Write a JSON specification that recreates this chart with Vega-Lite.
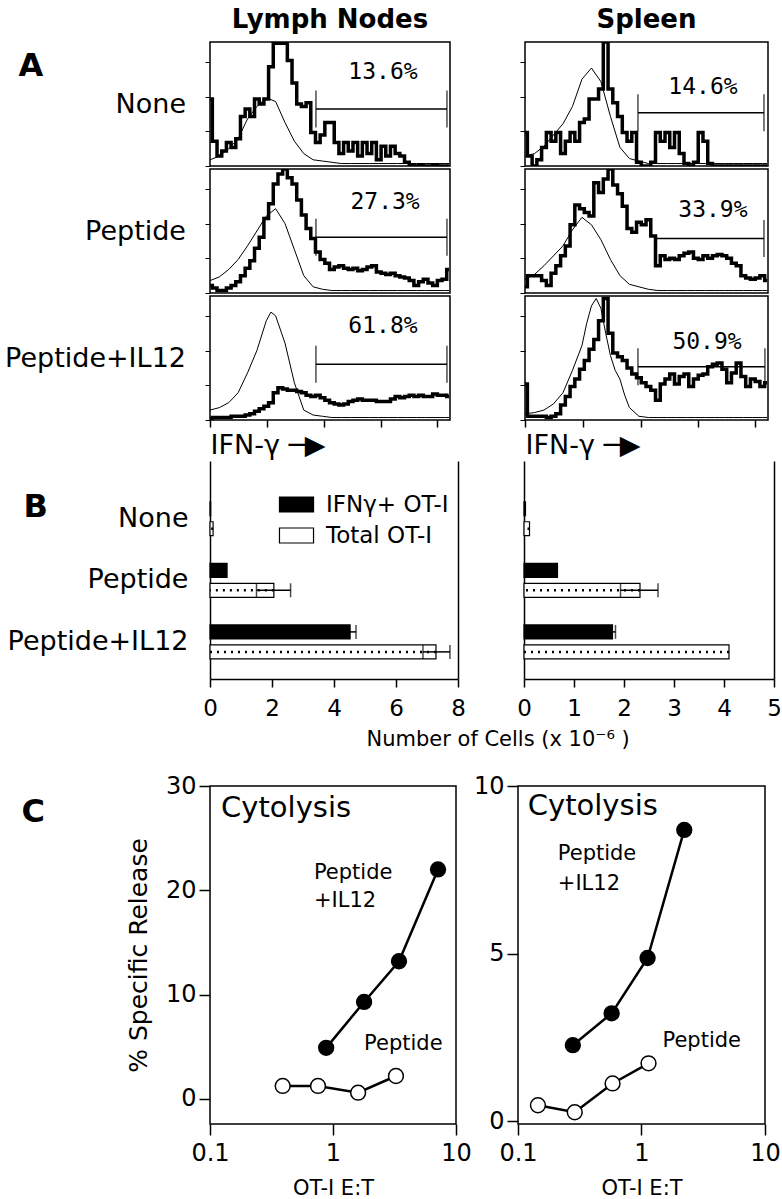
{
"$schema": "https://vega.github.io/schema/vega-lite/v6.json",
"background": "white",
"padding": {"left": 3, "top": 6, "right": 0, "bottom": 0},
"config": {
  "font": "DejaVu Sans",
  "view": {"stroke": "black", "strokeWidth": 1.5},
  "axis": {"labelFont": "DejaVu Sans", "titleFont": "DejaVu Sans", "labelColor": "black", "titleColor": "black", "tickColor": "black", "domainColor": "black", "titleFontWeight": "normal", "labelLimit": 400, "titleLimit": 400, "labelFlush": false, "grid": false},
  "title": {"font": "DejaVu Sans", "color": "black"},
  "text": {"font": "DejaVu Sans", "color": "black"},
  "legend": {"labelFont": "DejaVu Sans", "labelColor": "black"}
},
"datasets": {
"hist": [
{"organ":"LN","cond":"None","trace":"thick","ch":0,"count":54},{"organ":"LN","cond":"None","trace":"thick","ch":20,"count":20},{"organ":"LN","cond":"None","trace":"thick","ch":40,"count":8},{"organ":"LN","cond":"None","trace":"thick","ch":60,"count":12},{"organ":"LN","cond":"None","trace":"thick","ch":80,"count":19},{"organ":"LN","cond":"None","trace":"thick","ch":100,"count":15},{"organ":"LN","cond":"None","trace":"thick","ch":120,"count":22},{"organ":"LN","cond":"None","trace":"thick","ch":140,"count":40},{"organ":"LN","cond":"None","trace":"thick","ch":160,"count":46},{"organ":"LN","cond":"None","trace":"thick","ch":180,"count":40},{"organ":"LN","cond":"None","trace":"thick","ch":200,"count":54},{"organ":"LN","cond":"None","trace":"thick","ch":220,"count":50},{"organ":"LN","cond":"None","trace":"thick","ch":240,"count":54},{"organ":"LN","cond":"None","trace":"thick","ch":260,"count":80},{"organ":"LN","cond":"None","trace":"thick","ch":280,"count":99},{"organ":"LN","cond":"None","trace":"thick","ch":300,"count":99},{"organ":"LN","cond":"None","trace":"thick","ch":320,"count":99},{"organ":"LN","cond":"None","trace":"thick","ch":340,"count":85},{"organ":"LN","cond":"None","trace":"thick","ch":360,"count":67},{"organ":"LN","cond":"None","trace":"thick","ch":380,"count":50},{"organ":"LN","cond":"None","trace":"thick","ch":400,"count":48},{"organ":"LN","cond":"None","trace":"thick","ch":420,"count":51},{"organ":"LN","cond":"None","trace":"thick","ch":440,"count":27},{"organ":"LN","cond":"None","trace":"thick","ch":460,"count":19},{"organ":"LN","cond":"None","trace":"thick","ch":480,"count":25},{"organ":"LN","cond":"None","trace":"thick","ch":500,"count":35},{"organ":"LN","cond":"None","trace":"thick","ch":520,"count":35},{"organ":"LN","cond":"None","trace":"thick","ch":540,"count":19},{"organ":"LN","cond":"None","trace":"thick","ch":560,"count":10},{"organ":"LN","cond":"None","trace":"thick","ch":580,"count":19},{"organ":"LN","cond":"None","trace":"thick","ch":600,"count":12},{"organ":"LN","cond":"None","trace":"thick","ch":620,"count":19},{"organ":"LN","cond":"None","trace":"thick","ch":640,"count":8},{"organ":"LN","cond":"None","trace":"thick","ch":660,"count":19},{"organ":"LN","cond":"None","trace":"thick","ch":680,"count":10},{"organ":"LN","cond":"None","trace":"thick","ch":700,"count":19},{"organ":"LN","cond":"None","trace":"thick","ch":720,"count":5},{"organ":"LN","cond":"None","trace":"thick","ch":740,"count":16},{"organ":"LN","cond":"None","trace":"thick","ch":760,"count":8},{"organ":"LN","cond":"None","trace":"thick","ch":780,"count":16},{"organ":"LN","cond":"None","trace":"thick","ch":800,"count":10},{"organ":"LN","cond":"None","trace":"thick","ch":820,"count":8},{"organ":"LN","cond":"None","trace":"thick","ch":840,"count":3},{"organ":"LN","cond":"None","trace":"thick","ch":860,"count":1},{"organ":"LN","cond":"None","trace":"thick","ch":880,"count":0},{"organ":"LN","cond":"None","trace":"thick","ch":900,"count":1},{"organ":"LN","cond":"None","trace":"thick","ch":920,"count":0},{"organ":"LN","cond":"None","trace":"thick","ch":940,"count":0},{"organ":"LN","cond":"None","trace":"thick","ch":960,"count":1},{"organ":"LN","cond":"None","trace":"thick","ch":980,"count":0},{"organ":"LN","cond":"None","trace":"thick","ch":1000,"count":0},{"organ":"LN","cond":"None","trace":"thick","ch":1020,"count":0},
{"organ":"LN","cond":"None","trace":"thin","ch":0,"count":5},{"organ":"LN","cond":"None","trace":"thin","ch":40,"count":8},{"organ":"LN","cond":"None","trace":"thin","ch":80,"count":14},{"organ":"LN","cond":"None","trace":"thin","ch":120,"count":22},{"organ":"LN","cond":"None","trace":"thin","ch":160,"count":38},{"organ":"LN","cond":"None","trace":"thin","ch":200,"count":48},{"organ":"LN","cond":"None","trace":"thin","ch":240,"count":55},{"organ":"LN","cond":"None","trace":"thin","ch":280,"count":52},{"organ":"LN","cond":"None","trace":"thin","ch":320,"count":35},{"organ":"LN","cond":"None","trace":"thin","ch":360,"count":20},{"organ":"LN","cond":"None","trace":"thin","ch":400,"count":10},{"organ":"LN","cond":"None","trace":"thin","ch":440,"count":5},{"organ":"LN","cond":"None","trace":"thin","ch":480,"count":4},{"organ":"LN","cond":"None","trace":"thin","ch":520,"count":3},{"organ":"LN","cond":"None","trace":"thin","ch":560,"count":2},{"organ":"LN","cond":"None","trace":"thin","ch":600,"count":2},{"organ":"LN","cond":"None","trace":"thin","ch":640,"count":2},{"organ":"LN","cond":"None","trace":"thin","ch":680,"count":2},{"organ":"LN","cond":"None","trace":"thin","ch":720,"count":2},{"organ":"LN","cond":"None","trace":"thin","ch":760,"count":2},{"organ":"LN","cond":"None","trace":"thin","ch":800,"count":2},{"organ":"LN","cond":"None","trace":"thin","ch":840,"count":2},{"organ":"LN","cond":"None","trace":"thin","ch":880,"count":2},{"organ":"LN","cond":"None","trace":"thin","ch":920,"count":2},{"organ":"LN","cond":"None","trace":"thin","ch":960,"count":2},{"organ":"LN","cond":"None","trace":"thin","ch":1000,"count":2},{"organ":"LN","cond":"None","trace":"thin","ch":1020,"count":2},
{"organ":"LN","cond":"Peptide","trace":"thick","ch":0,"count":6},{"organ":"LN","cond":"Peptide","trace":"thick","ch":20,"count":4},{"organ":"LN","cond":"Peptide","trace":"thick","ch":40,"count":2},{"organ":"LN","cond":"Peptide","trace":"thick","ch":60,"count":2},{"organ":"LN","cond":"Peptide","trace":"thick","ch":80,"count":4},{"organ":"LN","cond":"Peptide","trace":"thick","ch":100,"count":6},{"organ":"LN","cond":"Peptide","trace":"thick","ch":120,"count":9},{"organ":"LN","cond":"Peptide","trace":"thick","ch":140,"count":14},{"organ":"LN","cond":"Peptide","trace":"thick","ch":160,"count":20},{"organ":"LN","cond":"Peptide","trace":"thick","ch":180,"count":26},{"organ":"LN","cond":"Peptide","trace":"thick","ch":200,"count":36},{"organ":"LN","cond":"Peptide","trace":"thick","ch":220,"count":45},{"organ":"LN","cond":"Peptide","trace":"thick","ch":240,"count":60},{"organ":"LN","cond":"Peptide","trace":"thick","ch":260,"count":72},{"organ":"LN","cond":"Peptide","trace":"thick","ch":280,"count":88},{"organ":"LN","cond":"Peptide","trace":"thick","ch":300,"count":96},{"organ":"LN","cond":"Peptide","trace":"thick","ch":320,"count":100},{"organ":"LN","cond":"Peptide","trace":"thick","ch":340,"count":93},{"organ":"LN","cond":"Peptide","trace":"thick","ch":360,"count":88},{"organ":"LN","cond":"Peptide","trace":"thick","ch":380,"count":75},{"organ":"LN","cond":"Peptide","trace":"thick","ch":400,"count":63},{"organ":"LN","cond":"Peptide","trace":"thick","ch":420,"count":52},{"organ":"LN","cond":"Peptide","trace":"thick","ch":440,"count":44},{"organ":"LN","cond":"Peptide","trace":"thick","ch":460,"count":33},{"organ":"LN","cond":"Peptide","trace":"thick","ch":480,"count":27},{"organ":"LN","cond":"Peptide","trace":"thick","ch":500,"count":24},{"organ":"LN","cond":"Peptide","trace":"thick","ch":520,"count":19},{"organ":"LN","cond":"Peptide","trace":"thick","ch":540,"count":21},{"organ":"LN","cond":"Peptide","trace":"thick","ch":560,"count":22},{"organ":"LN","cond":"Peptide","trace":"thick","ch":580,"count":20},{"organ":"LN","cond":"Peptide","trace":"thick","ch":600,"count":19},{"organ":"LN","cond":"Peptide","trace":"thick","ch":620,"count":20},{"organ":"LN","cond":"Peptide","trace":"thick","ch":640,"count":18},{"organ":"LN","cond":"Peptide","trace":"thick","ch":660,"count":19},{"organ":"LN","cond":"Peptide","trace":"thick","ch":680,"count":21},{"organ":"LN","cond":"Peptide","trace":"thick","ch":700,"count":22},{"organ":"LN","cond":"Peptide","trace":"thick","ch":720,"count":17},{"organ":"LN","cond":"Peptide","trace":"thick","ch":740,"count":16},{"organ":"LN","cond":"Peptide","trace":"thick","ch":760,"count":15},{"organ":"LN","cond":"Peptide","trace":"thick","ch":780,"count":16},{"organ":"LN","cond":"Peptide","trace":"thick","ch":800,"count":14},{"organ":"LN","cond":"Peptide","trace":"thick","ch":820,"count":13},{"organ":"LN","cond":"Peptide","trace":"thick","ch":840,"count":12},{"organ":"LN","cond":"Peptide","trace":"thick","ch":860,"count":10},{"organ":"LN","cond":"Peptide","trace":"thick","ch":880,"count":6},{"organ":"LN","cond":"Peptide","trace":"thick","ch":900,"count":9},{"organ":"LN","cond":"Peptide","trace":"thick","ch":920,"count":11},{"organ":"LN","cond":"Peptide","trace":"thick","ch":940,"count":8},{"organ":"LN","cond":"Peptide","trace":"thick","ch":960,"count":6},{"organ":"LN","cond":"Peptide","trace":"thick","ch":980,"count":10},{"organ":"LN","cond":"Peptide","trace":"thick","ch":1000,"count":11},{"organ":"LN","cond":"Peptide","trace":"thick","ch":1020,"count":19},
{"organ":"LN","cond":"Peptide","trace":"thin","ch":0,"count":10},{"organ":"LN","cond":"Peptide","trace":"thin","ch":40,"count":13},{"organ":"LN","cond":"Peptide","trace":"thin","ch":80,"count":19},{"organ":"LN","cond":"Peptide","trace":"thin","ch":120,"count":27},{"organ":"LN","cond":"Peptide","trace":"thin","ch":160,"count":38},{"organ":"LN","cond":"Peptide","trace":"thin","ch":200,"count":50},{"organ":"LN","cond":"Peptide","trace":"thin","ch":240,"count":62},{"organ":"LN","cond":"Peptide","trace":"thin","ch":280,"count":68},{"organ":"LN","cond":"Peptide","trace":"thin","ch":320,"count":56},{"organ":"LN","cond":"Peptide","trace":"thin","ch":360,"count":35},{"organ":"LN","cond":"Peptide","trace":"thin","ch":400,"count":14},{"organ":"LN","cond":"Peptide","trace":"thin","ch":440,"count":5},{"organ":"LN","cond":"Peptide","trace":"thin","ch":480,"count":3},{"organ":"LN","cond":"Peptide","trace":"thin","ch":520,"count":2},{"organ":"LN","cond":"Peptide","trace":"thin","ch":560,"count":2},{"organ":"LN","cond":"Peptide","trace":"thin","ch":600,"count":2},{"organ":"LN","cond":"Peptide","trace":"thin","ch":640,"count":2},{"organ":"LN","cond":"Peptide","trace":"thin","ch":680,"count":2},{"organ":"LN","cond":"Peptide","trace":"thin","ch":720,"count":2},{"organ":"LN","cond":"Peptide","trace":"thin","ch":760,"count":2},{"organ":"LN","cond":"Peptide","trace":"thin","ch":800,"count":2},{"organ":"LN","cond":"Peptide","trace":"thin","ch":840,"count":2},{"organ":"LN","cond":"Peptide","trace":"thin","ch":880,"count":2},{"organ":"LN","cond":"Peptide","trace":"thin","ch":920,"count":2},{"organ":"LN","cond":"Peptide","trace":"thin","ch":960,"count":2},{"organ":"LN","cond":"Peptide","trace":"thin","ch":1000,"count":2},{"organ":"LN","cond":"Peptide","trace":"thin","ch":1020,"count":2},
{"organ":"LN","cond":"Peptide+IL12","trace":"thick","ch":0,"count":1},{"organ":"LN","cond":"Peptide+IL12","trace":"thick","ch":20,"count":2},{"organ":"LN","cond":"Peptide+IL12","trace":"thick","ch":40,"count":2},{"organ":"LN","cond":"Peptide+IL12","trace":"thick","ch":60,"count":2},{"organ":"LN","cond":"Peptide+IL12","trace":"thick","ch":80,"count":2},{"organ":"LN","cond":"Peptide+IL12","trace":"thick","ch":100,"count":3},{"organ":"LN","cond":"Peptide+IL12","trace":"thick","ch":120,"count":3},{"organ":"LN","cond":"Peptide+IL12","trace":"thick","ch":140,"count":3},{"organ":"LN","cond":"Peptide+IL12","trace":"thick","ch":160,"count":4},{"organ":"LN","cond":"Peptide+IL12","trace":"thick","ch":180,"count":5},{"organ":"LN","cond":"Peptide+IL12","trace":"thick","ch":200,"count":7},{"organ":"LN","cond":"Peptide+IL12","trace":"thick","ch":220,"count":9},{"organ":"LN","cond":"Peptide+IL12","trace":"thick","ch":240,"count":11},{"organ":"LN","cond":"Peptide+IL12","trace":"thick","ch":260,"count":14},{"organ":"LN","cond":"Peptide+IL12","trace":"thick","ch":280,"count":22},{"organ":"LN","cond":"Peptide+IL12","trace":"thick","ch":300,"count":26},{"organ":"LN","cond":"Peptide+IL12","trace":"thick","ch":320,"count":25},{"organ":"LN","cond":"Peptide+IL12","trace":"thick","ch":340,"count":24},{"organ":"LN","cond":"Peptide+IL12","trace":"thick","ch":360,"count":24},{"organ":"LN","cond":"Peptide+IL12","trace":"thick","ch":380,"count":23},{"organ":"LN","cond":"Peptide+IL12","trace":"thick","ch":400,"count":22},{"organ":"LN","cond":"Peptide+IL12","trace":"thick","ch":420,"count":20},{"organ":"LN","cond":"Peptide+IL12","trace":"thick","ch":440,"count":19},{"organ":"LN","cond":"Peptide+IL12","trace":"thick","ch":460,"count":20},{"organ":"LN","cond":"Peptide+IL12","trace":"thick","ch":480,"count":18},{"organ":"LN","cond":"Peptide+IL12","trace":"thick","ch":500,"count":16},{"organ":"LN","cond":"Peptide+IL12","trace":"thick","ch":520,"count":14},{"organ":"LN","cond":"Peptide+IL12","trace":"thick","ch":540,"count":13},{"organ":"LN","cond":"Peptide+IL12","trace":"thick","ch":560,"count":12},{"organ":"LN","cond":"Peptide+IL12","trace":"thick","ch":580,"count":13},{"organ":"LN","cond":"Peptide+IL12","trace":"thick","ch":600,"count":15},{"organ":"LN","cond":"Peptide+IL12","trace":"thick","ch":620,"count":16},{"organ":"LN","cond":"Peptide+IL12","trace":"thick","ch":640,"count":17},{"organ":"LN","cond":"Peptide+IL12","trace":"thick","ch":660,"count":16},{"organ":"LN","cond":"Peptide+IL12","trace":"thick","ch":680,"count":16},{"organ":"LN","cond":"Peptide+IL12","trace":"thick","ch":700,"count":16},{"organ":"LN","cond":"Peptide+IL12","trace":"thick","ch":720,"count":15},{"organ":"LN","cond":"Peptide+IL12","trace":"thick","ch":740,"count":15},{"organ":"LN","cond":"Peptide+IL12","trace":"thick","ch":760,"count":15},{"organ":"LN","cond":"Peptide+IL12","trace":"thick","ch":780,"count":17},{"organ":"LN","cond":"Peptide+IL12","trace":"thick","ch":800,"count":19},{"organ":"LN","cond":"Peptide+IL12","trace":"thick","ch":820,"count":18},{"organ":"LN","cond":"Peptide+IL12","trace":"thick","ch":840,"count":19},{"organ":"LN","cond":"Peptide+IL12","trace":"thick","ch":860,"count":20},{"organ":"LN","cond":"Peptide+IL12","trace":"thick","ch":880,"count":19},{"organ":"LN","cond":"Peptide+IL12","trace":"thick","ch":900,"count":20},{"organ":"LN","cond":"Peptide+IL12","trace":"thick","ch":920,"count":19},{"organ":"LN","cond":"Peptide+IL12","trace":"thick","ch":940,"count":19},{"organ":"LN","cond":"Peptide+IL12","trace":"thick","ch":960,"count":21},{"organ":"LN","cond":"Peptide+IL12","trace":"thick","ch":980,"count":20},{"organ":"LN","cond":"Peptide+IL12","trace":"thick","ch":1000,"count":20},{"organ":"LN","cond":"Peptide+IL12","trace":"thick","ch":1020,"count":19},
{"organ":"LN","cond":"Peptide+IL12","trace":"thin","ch":0,"count":8},{"organ":"LN","cond":"Peptide+IL12","trace":"thin","ch":40,"count":10},{"organ":"LN","cond":"Peptide+IL12","trace":"thin","ch":80,"count":14},{"organ":"LN","cond":"Peptide+IL12","trace":"thin","ch":120,"count":22},{"organ":"LN","cond":"Peptide+IL12","trace":"thin","ch":160,"count":38},{"organ":"LN","cond":"Peptide+IL12","trace":"thin","ch":200,"count":56},{"organ":"LN","cond":"Peptide+IL12","trace":"thin","ch":240,"count":80},{"organ":"LN","cond":"Peptide+IL12","trace":"thin","ch":260,"count":87},{"organ":"LN","cond":"Peptide+IL12","trace":"thin","ch":280,"count":84},{"organ":"LN","cond":"Peptide+IL12","trace":"thin","ch":320,"count":62},{"organ":"LN","cond":"Peptide+IL12","trace":"thin","ch":360,"count":30},{"organ":"LN","cond":"Peptide+IL12","trace":"thin","ch":400,"count":8},{"organ":"LN","cond":"Peptide+IL12","trace":"thin","ch":440,"count":4},{"organ":"LN","cond":"Peptide+IL12","trace":"thin","ch":480,"count":3},{"organ":"LN","cond":"Peptide+IL12","trace":"thin","ch":520,"count":2},{"organ":"LN","cond":"Peptide+IL12","trace":"thin","ch":560,"count":2},{"organ":"LN","cond":"Peptide+IL12","trace":"thin","ch":600,"count":2},{"organ":"LN","cond":"Peptide+IL12","trace":"thin","ch":640,"count":2},{"organ":"LN","cond":"Peptide+IL12","trace":"thin","ch":680,"count":2},{"organ":"LN","cond":"Peptide+IL12","trace":"thin","ch":720,"count":2},{"organ":"LN","cond":"Peptide+IL12","trace":"thin","ch":760,"count":2},{"organ":"LN","cond":"Peptide+IL12","trace":"thin","ch":800,"count":2},{"organ":"LN","cond":"Peptide+IL12","trace":"thin","ch":840,"count":2},{"organ":"LN","cond":"Peptide+IL12","trace":"thin","ch":880,"count":2},{"organ":"LN","cond":"Peptide+IL12","trace":"thin","ch":920,"count":2},{"organ":"LN","cond":"Peptide+IL12","trace":"thin","ch":960,"count":2},{"organ":"LN","cond":"Peptide+IL12","trace":"thin","ch":1000,"count":2},{"organ":"LN","cond":"Peptide+IL12","trace":"thin","ch":1020,"count":2},
{"organ":"Spleen","cond":"None","trace":"thick","ch":0,"count":27},{"organ":"Spleen","cond":"None","trace":"thick","ch":20,"count":8},{"organ":"Spleen","cond":"None","trace":"thick","ch":40,"count":0},{"organ":"Spleen","cond":"None","trace":"thick","ch":60,"count":5},{"organ":"Spleen","cond":"None","trace":"thick","ch":80,"count":15},{"organ":"Spleen","cond":"None","trace":"thick","ch":100,"count":27},{"organ":"Spleen","cond":"None","trace":"thick","ch":120,"count":20},{"organ":"Spleen","cond":"None","trace":"thick","ch":140,"count":27},{"organ":"Spleen","cond":"None","trace":"thick","ch":160,"count":10},{"organ":"Spleen","cond":"None","trace":"thick","ch":180,"count":20},{"organ":"Spleen","cond":"None","trace":"thick","ch":200,"count":27},{"organ":"Spleen","cond":"None","trace":"thick","ch":220,"count":20},{"organ":"Spleen","cond":"None","trace":"thick","ch":240,"count":35},{"organ":"Spleen","cond":"None","trace":"thick","ch":260,"count":38},{"organ":"Spleen","cond":"None","trace":"thick","ch":280,"count":54},{"organ":"Spleen","cond":"None","trace":"thick","ch":300,"count":54},{"organ":"Spleen","cond":"None","trace":"thick","ch":320,"count":62},{"organ":"Spleen","cond":"None","trace":"thick","ch":340,"count":100},{"organ":"Spleen","cond":"None","trace":"thick","ch":360,"count":62},{"organ":"Spleen","cond":"None","trace":"thick","ch":380,"count":51},{"organ":"Spleen","cond":"None","trace":"thick","ch":400,"count":40},{"organ":"Spleen","cond":"None","trace":"thick","ch":420,"count":27},{"organ":"Spleen","cond":"None","trace":"thick","ch":440,"count":20},{"organ":"Spleen","cond":"None","trace":"thick","ch":460,"count":27},{"organ":"Spleen","cond":"None","trace":"thick","ch":480,"count":3},{"organ":"Spleen","cond":"None","trace":"thick","ch":500,"count":0},{"organ":"Spleen","cond":"None","trace":"thick","ch":520,"count":0},{"organ":"Spleen","cond":"None","trace":"thick","ch":540,"count":3},{"organ":"Spleen","cond":"None","trace":"thick","ch":560,"count":27},{"organ":"Spleen","cond":"None","trace":"thick","ch":580,"count":20},{"organ":"Spleen","cond":"None","trace":"thick","ch":600,"count":27},{"organ":"Spleen","cond":"None","trace":"thick","ch":620,"count":15},{"organ":"Spleen","cond":"None","trace":"thick","ch":640,"count":27},{"organ":"Spleen","cond":"None","trace":"thick","ch":660,"count":10},{"organ":"Spleen","cond":"None","trace":"thick","ch":680,"count":2},{"organ":"Spleen","cond":"None","trace":"thick","ch":700,"count":0},{"organ":"Spleen","cond":"None","trace":"thick","ch":720,"count":3},{"organ":"Spleen","cond":"None","trace":"thick","ch":740,"count":27},{"organ":"Spleen","cond":"None","trace":"thick","ch":760,"count":20},{"organ":"Spleen","cond":"None","trace":"thick","ch":780,"count":2},{"organ":"Spleen","cond":"None","trace":"thick","ch":800,"count":0},{"organ":"Spleen","cond":"None","trace":"thick","ch":820,"count":0},{"organ":"Spleen","cond":"None","trace":"thick","ch":840,"count":0},{"organ":"Spleen","cond":"None","trace":"thick","ch":860,"count":0},{"organ":"Spleen","cond":"None","trace":"thick","ch":880,"count":0},{"organ":"Spleen","cond":"None","trace":"thick","ch":900,"count":0},{"organ":"Spleen","cond":"None","trace":"thick","ch":920,"count":0},{"organ":"Spleen","cond":"None","trace":"thick","ch":940,"count":0},{"organ":"Spleen","cond":"None","trace":"thick","ch":960,"count":0},{"organ":"Spleen","cond":"None","trace":"thick","ch":980,"count":0},{"organ":"Spleen","cond":"None","trace":"thick","ch":1000,"count":0},{"organ":"Spleen","cond":"None","trace":"thick","ch":1020,"count":0},
{"organ":"Spleen","cond":"None","trace":"thin","ch":0,"count":8},{"organ":"Spleen","cond":"None","trace":"thin","ch":40,"count":10},{"organ":"Spleen","cond":"None","trace":"thin","ch":80,"count":16},{"organ":"Spleen","cond":"None","trace":"thin","ch":120,"count":25},{"organ":"Spleen","cond":"None","trace":"thin","ch":160,"count":34},{"organ":"Spleen","cond":"None","trace":"thin","ch":200,"count":48},{"organ":"Spleen","cond":"None","trace":"thin","ch":240,"count":70},{"organ":"Spleen","cond":"None","trace":"thin","ch":280,"count":79},{"organ":"Spleen","cond":"None","trace":"thin","ch":320,"count":68},{"organ":"Spleen","cond":"None","trace":"thin","ch":360,"count":40},{"organ":"Spleen","cond":"None","trace":"thin","ch":400,"count":15},{"organ":"Spleen","cond":"None","trace":"thin","ch":440,"count":6},{"organ":"Spleen","cond":"None","trace":"thin","ch":480,"count":4},{"organ":"Spleen","cond":"None","trace":"thin","ch":520,"count":2},{"organ":"Spleen","cond":"None","trace":"thin","ch":560,"count":2},{"organ":"Spleen","cond":"None","trace":"thin","ch":600,"count":2},{"organ":"Spleen","cond":"None","trace":"thin","ch":640,"count":2},{"organ":"Spleen","cond":"None","trace":"thin","ch":680,"count":2},{"organ":"Spleen","cond":"None","trace":"thin","ch":720,"count":2},{"organ":"Spleen","cond":"None","trace":"thin","ch":760,"count":2},{"organ":"Spleen","cond":"None","trace":"thin","ch":800,"count":2},{"organ":"Spleen","cond":"None","trace":"thin","ch":840,"count":2},{"organ":"Spleen","cond":"None","trace":"thin","ch":880,"count":2},{"organ":"Spleen","cond":"None","trace":"thin","ch":920,"count":2},{"organ":"Spleen","cond":"None","trace":"thin","ch":960,"count":2},{"organ":"Spleen","cond":"None","trace":"thin","ch":1000,"count":2},{"organ":"Spleen","cond":"None","trace":"thin","ch":1020,"count":2},
{"organ":"Spleen","cond":"Peptide","trace":"thick","ch":0,"count":5},{"organ":"Spleen","cond":"Peptide","trace":"thick","ch":20,"count":14},{"organ":"Spleen","cond":"Peptide","trace":"thick","ch":40,"count":14},{"organ":"Spleen","cond":"Peptide","trace":"thick","ch":60,"count":14},{"organ":"Spleen","cond":"Peptide","trace":"thick","ch":80,"count":10},{"organ":"Spleen","cond":"Peptide","trace":"thick","ch":100,"count":6},{"organ":"Spleen","cond":"Peptide","trace":"thick","ch":120,"count":16},{"organ":"Spleen","cond":"Peptide","trace":"thick","ch":140,"count":22},{"organ":"Spleen","cond":"Peptide","trace":"thick","ch":160,"count":30},{"organ":"Spleen","cond":"Peptide","trace":"thick","ch":180,"count":38},{"organ":"Spleen","cond":"Peptide","trace":"thick","ch":200,"count":55},{"organ":"Spleen","cond":"Peptide","trace":"thick","ch":220,"count":71},{"organ":"Spleen","cond":"Peptide","trace":"thick","ch":240,"count":68},{"organ":"Spleen","cond":"Peptide","trace":"thick","ch":260,"count":65},{"organ":"Spleen","cond":"Peptide","trace":"thick","ch":280,"count":62},{"organ":"Spleen","cond":"Peptide","trace":"thick","ch":300,"count":89},{"organ":"Spleen","cond":"Peptide","trace":"thick","ch":320,"count":81},{"organ":"Spleen","cond":"Peptide","trace":"thick","ch":340,"count":92},{"organ":"Spleen","cond":"Peptide","trace":"thick","ch":360,"count":100},{"organ":"Spleen","cond":"Peptide","trace":"thick","ch":380,"count":87},{"organ":"Spleen","cond":"Peptide","trace":"thick","ch":400,"count":80},{"organ":"Spleen","cond":"Peptide","trace":"thick","ch":420,"count":70},{"organ":"Spleen","cond":"Peptide","trace":"thick","ch":440,"count":52},{"organ":"Spleen","cond":"Peptide","trace":"thick","ch":460,"count":49},{"organ":"Spleen","cond":"Peptide","trace":"thick","ch":480,"count":57},{"organ":"Spleen","cond":"Peptide","trace":"thick","ch":500,"count":55},{"organ":"Spleen","cond":"Peptide","trace":"thick","ch":520,"count":59},{"organ":"Spleen","cond":"Peptide","trace":"thick","ch":540,"count":46},{"organ":"Spleen","cond":"Peptide","trace":"thick","ch":560,"count":22},{"organ":"Spleen","cond":"Peptide","trace":"thick","ch":580,"count":30},{"organ":"Spleen","cond":"Peptide","trace":"thick","ch":600,"count":27},{"organ":"Spleen","cond":"Peptide","trace":"thick","ch":620,"count":28},{"organ":"Spleen","cond":"Peptide","trace":"thick","ch":640,"count":27},{"organ":"Spleen","cond":"Peptide","trace":"thick","ch":660,"count":30},{"organ":"Spleen","cond":"Peptide","trace":"thick","ch":680,"count":32},{"organ":"Spleen","cond":"Peptide","trace":"thick","ch":700,"count":33},{"organ":"Spleen","cond":"Peptide","trace":"thick","ch":720,"count":28},{"organ":"Spleen","cond":"Peptide","trace":"thick","ch":740,"count":27},{"organ":"Spleen","cond":"Peptide","trace":"thick","ch":760,"count":30},{"organ":"Spleen","cond":"Peptide","trace":"thick","ch":780,"count":28},{"organ":"Spleen","cond":"Peptide","trace":"thick","ch":800,"count":30},{"organ":"Spleen","cond":"Peptide","trace":"thick","ch":820,"count":31},{"organ":"Spleen","cond":"Peptide","trace":"thick","ch":840,"count":30},{"organ":"Spleen","cond":"Peptide","trace":"thick","ch":860,"count":28},{"organ":"Spleen","cond":"Peptide","trace":"thick","ch":880,"count":24},{"organ":"Spleen","cond":"Peptide","trace":"thick","ch":900,"count":22},{"organ":"Spleen","cond":"Peptide","trace":"thick","ch":920,"count":14},{"organ":"Spleen","cond":"Peptide","trace":"thick","ch":940,"count":12},{"organ":"Spleen","cond":"Peptide","trace":"thick","ch":960,"count":11},{"organ":"Spleen","cond":"Peptide","trace":"thick","ch":980,"count":12},{"organ":"Spleen","cond":"Peptide","trace":"thick","ch":1000,"count":14},{"organ":"Spleen","cond":"Peptide","trace":"thick","ch":1020,"count":10},
{"organ":"Spleen","cond":"Peptide","trace":"thin","ch":0,"count":11},{"organ":"Spleen","cond":"Peptide","trace":"thin","ch":40,"count":15},{"organ":"Spleen","cond":"Peptide","trace":"thin","ch":80,"count":22},{"organ":"Spleen","cond":"Peptide","trace":"thin","ch":120,"count":30},{"organ":"Spleen","cond":"Peptide","trace":"thin","ch":160,"count":38},{"organ":"Spleen","cond":"Peptide","trace":"thin","ch":200,"count":51},{"organ":"Spleen","cond":"Peptide","trace":"thin","ch":240,"count":61},{"organ":"Spleen","cond":"Peptide","trace":"thin","ch":280,"count":55},{"organ":"Spleen","cond":"Peptide","trace":"thin","ch":320,"count":43},{"organ":"Spleen","cond":"Peptide","trace":"thin","ch":360,"count":27},{"organ":"Spleen","cond":"Peptide","trace":"thin","ch":400,"count":14},{"organ":"Spleen","cond":"Peptide","trace":"thin","ch":440,"count":7},{"organ":"Spleen","cond":"Peptide","trace":"thin","ch":480,"count":5},{"organ":"Spleen","cond":"Peptide","trace":"thin","ch":520,"count":3},{"organ":"Spleen","cond":"Peptide","trace":"thin","ch":560,"count":2},{"organ":"Spleen","cond":"Peptide","trace":"thin","ch":600,"count":2},{"organ":"Spleen","cond":"Peptide","trace":"thin","ch":640,"count":2},{"organ":"Spleen","cond":"Peptide","trace":"thin","ch":680,"count":2},{"organ":"Spleen","cond":"Peptide","trace":"thin","ch":720,"count":2},{"organ":"Spleen","cond":"Peptide","trace":"thin","ch":760,"count":2},{"organ":"Spleen","cond":"Peptide","trace":"thin","ch":800,"count":2},{"organ":"Spleen","cond":"Peptide","trace":"thin","ch":840,"count":2},{"organ":"Spleen","cond":"Peptide","trace":"thin","ch":880,"count":2},{"organ":"Spleen","cond":"Peptide","trace":"thin","ch":920,"count":2},{"organ":"Spleen","cond":"Peptide","trace":"thin","ch":960,"count":2},{"organ":"Spleen","cond":"Peptide","trace":"thin","ch":1000,"count":2},{"organ":"Spleen","cond":"Peptide","trace":"thin","ch":1020,"count":2},
{"organ":"Spleen","cond":"Peptide+IL12","trace":"thick","ch":0,"count":29},{"organ":"Spleen","cond":"Peptide+IL12","trace":"thick","ch":20,"count":3},{"organ":"Spleen","cond":"Peptide+IL12","trace":"thick","ch":40,"count":3},{"organ":"Spleen","cond":"Peptide+IL12","trace":"thick","ch":60,"count":3},{"organ":"Spleen","cond":"Peptide+IL12","trace":"thick","ch":80,"count":3},{"organ":"Spleen","cond":"Peptide+IL12","trace":"thick","ch":100,"count":2},{"organ":"Spleen","cond":"Peptide+IL12","trace":"thick","ch":120,"count":3},{"organ":"Spleen","cond":"Peptide+IL12","trace":"thick","ch":140,"count":5},{"organ":"Spleen","cond":"Peptide+IL12","trace":"thick","ch":160,"count":12},{"organ":"Spleen","cond":"Peptide+IL12","trace":"thick","ch":180,"count":19},{"organ":"Spleen","cond":"Peptide+IL12","trace":"thick","ch":200,"count":27},{"organ":"Spleen","cond":"Peptide+IL12","trace":"thick","ch":220,"count":33},{"organ":"Spleen","cond":"Peptide+IL12","trace":"thick","ch":240,"count":41},{"organ":"Spleen","cond":"Peptide+IL12","trace":"thick","ch":260,"count":48},{"organ":"Spleen","cond":"Peptide+IL12","trace":"thick","ch":280,"count":57},{"organ":"Spleen","cond":"Peptide+IL12","trace":"thick","ch":300,"count":65},{"organ":"Spleen","cond":"Peptide+IL12","trace":"thick","ch":320,"count":80},{"organ":"Spleen","cond":"Peptide+IL12","trace":"thick","ch":340,"count":98},{"organ":"Spleen","cond":"Peptide+IL12","trace":"thick","ch":360,"count":70},{"organ":"Spleen","cond":"Peptide+IL12","trace":"thick","ch":380,"count":54},{"organ":"Spleen","cond":"Peptide+IL12","trace":"thick","ch":400,"count":51},{"organ":"Spleen","cond":"Peptide+IL12","trace":"thick","ch":420,"count":48},{"organ":"Spleen","cond":"Peptide+IL12","trace":"thick","ch":440,"count":42},{"organ":"Spleen","cond":"Peptide+IL12","trace":"thick","ch":460,"count":37},{"organ":"Spleen","cond":"Peptide+IL12","trace":"thick","ch":480,"count":34},{"organ":"Spleen","cond":"Peptide+IL12","trace":"thick","ch":500,"count":30},{"organ":"Spleen","cond":"Peptide+IL12","trace":"thick","ch":520,"count":27},{"organ":"Spleen","cond":"Peptide+IL12","trace":"thick","ch":540,"count":24},{"organ":"Spleen","cond":"Peptide+IL12","trace":"thick","ch":560,"count":16},{"organ":"Spleen","cond":"Peptide+IL12","trace":"thick","ch":580,"count":29},{"organ":"Spleen","cond":"Peptide+IL12","trace":"thick","ch":600,"count":33},{"organ":"Spleen","cond":"Peptide+IL12","trace":"thick","ch":620,"count":37},{"organ":"Spleen","cond":"Peptide+IL12","trace":"thick","ch":640,"count":29},{"organ":"Spleen","cond":"Peptide+IL12","trace":"thick","ch":660,"count":35},{"organ":"Spleen","cond":"Peptide+IL12","trace":"thick","ch":680,"count":37},{"organ":"Spleen","cond":"Peptide+IL12","trace":"thick","ch":700,"count":27},{"organ":"Spleen","cond":"Peptide+IL12","trace":"thick","ch":720,"count":33},{"organ":"Spleen","cond":"Peptide+IL12","trace":"thick","ch":740,"count":36},{"organ":"Spleen","cond":"Peptide+IL12","trace":"thick","ch":760,"count":37},{"organ":"Spleen","cond":"Peptide+IL12","trace":"thick","ch":780,"count":43},{"organ":"Spleen","cond":"Peptide+IL12","trace":"thick","ch":800,"count":45},{"organ":"Spleen","cond":"Peptide+IL12","trace":"thick","ch":820,"count":46},{"organ":"Spleen","cond":"Peptide+IL12","trace":"thick","ch":840,"count":41},{"organ":"Spleen","cond":"Peptide+IL12","trace":"thick","ch":860,"count":30},{"organ":"Spleen","cond":"Peptide+IL12","trace":"thick","ch":880,"count":38},{"organ":"Spleen","cond":"Peptide+IL12","trace":"thick","ch":900,"count":46},{"organ":"Spleen","cond":"Peptide+IL12","trace":"thick","ch":920,"count":35},{"organ":"Spleen","cond":"Peptide+IL12","trace":"thick","ch":940,"count":27},{"organ":"Spleen","cond":"Peptide+IL12","trace":"thick","ch":960,"count":33},{"organ":"Spleen","cond":"Peptide+IL12","trace":"thick","ch":980,"count":31},{"organ":"Spleen","cond":"Peptide+IL12","trace":"thick","ch":1000,"count":27},{"organ":"Spleen","cond":"Peptide+IL12","trace":"thick","ch":1020,"count":30},
{"organ":"Spleen","cond":"Peptide+IL12","trace":"thin","ch":0,"count":5},{"organ":"Spleen","cond":"Peptide+IL12","trace":"thin","ch":40,"count":6},{"organ":"Spleen","cond":"Peptide+IL12","trace":"thin","ch":80,"count":8},{"organ":"Spleen","cond":"Peptide+IL12","trace":"thin","ch":120,"count":13},{"organ":"Spleen","cond":"Peptide+IL12","trace":"thin","ch":160,"count":22},{"organ":"Spleen","cond":"Peptide+IL12","trace":"thin","ch":200,"count":40},{"organ":"Spleen","cond":"Peptide+IL12","trace":"thin","ch":240,"count":60},{"organ":"Spleen","cond":"Peptide+IL12","trace":"thin","ch":260,"count":78},{"organ":"Spleen","cond":"Peptide+IL12","trace":"thin","ch":280,"count":92},{"organ":"Spleen","cond":"Peptide+IL12","trace":"thin","ch":300,"count":98},{"organ":"Spleen","cond":"Peptide+IL12","trace":"thin","ch":320,"count":90},{"organ":"Spleen","cond":"Peptide+IL12","trace":"thin","ch":340,"count":70},{"organ":"Spleen","cond":"Peptide+IL12","trace":"thin","ch":360,"count":52},{"organ":"Spleen","cond":"Peptide+IL12","trace":"thin","ch":380,"count":40},{"organ":"Spleen","cond":"Peptide+IL12","trace":"thin","ch":400,"count":33},{"organ":"Spleen","cond":"Peptide+IL12","trace":"thin","ch":420,"count":20},{"organ":"Spleen","cond":"Peptide+IL12","trace":"thin","ch":440,"count":10},{"organ":"Spleen","cond":"Peptide+IL12","trace":"thin","ch":480,"count":3},{"organ":"Spleen","cond":"Peptide+IL12","trace":"thin","ch":520,"count":2},{"organ":"Spleen","cond":"Peptide+IL12","trace":"thin","ch":560,"count":2},{"organ":"Spleen","cond":"Peptide+IL12","trace":"thin","ch":600,"count":2},{"organ":"Spleen","cond":"Peptide+IL12","trace":"thin","ch":640,"count":2},{"organ":"Spleen","cond":"Peptide+IL12","trace":"thin","ch":680,"count":2},{"organ":"Spleen","cond":"Peptide+IL12","trace":"thin","ch":720,"count":2},{"organ":"Spleen","cond":"Peptide+IL12","trace":"thin","ch":760,"count":2},{"organ":"Spleen","cond":"Peptide+IL12","trace":"thin","ch":800,"count":2},{"organ":"Spleen","cond":"Peptide+IL12","trace":"thin","ch":840,"count":2},{"organ":"Spleen","cond":"Peptide+IL12","trace":"thin","ch":880,"count":2},{"organ":"Spleen","cond":"Peptide+IL12","trace":"thin","ch":920,"count":2},{"organ":"Spleen","cond":"Peptide+IL12","trace":"thin","ch":960,"count":2},{"organ":"Spleen","cond":"Peptide+IL12","trace":"thin","ch":1000,"count":2},{"organ":"Spleen","cond":"Peptide+IL12","trace":"thin","ch":1020,"count":2}
],
"gates": [
{"organ":"LN","cond":"None","lo":452,"hi":1011,"level":46,"mid":738,"ly":76,"pct":"13.6%"},
{"organ":"LN","cond":"Peptide","lo":452,"hi":1011,"level":45,"mid":747,"ly":73,"pct":"27.3%"},
{"organ":"LN","cond":"Peptide+IL12","lo":452,"hi":1011,"level":45,"mid":738,"ly":76,"pct":"61.8%"},
{"organ":"Spleen","cond":"None","lo":476,"hi":1007,"level":43,"mid":750,"ly":64,"pct":"14.6%"},
{"organ":"Spleen","cond":"Peptide","lo":556,"hi":1007,"level":44,"mid":792,"ly":67,"pct":"33.9%"},
{"organ":"Spleen","cond":"Peptide+IL12","lo":476,"hi":1011,"level":43,"mid":767,"ly":63,"pct":"50.9%"}
],
"cells": [
{"organ":"LN","cond":"None","series":"IFNγ+  OT-I","value":0.02},
{"organ":"LN","cond":"None","series":"Total OT-I","value":0.1},
{"organ":"LN","cond":"Peptide","series":"IFNγ+  OT-I","value":0.55},
{"organ":"LN","cond":"Peptide","series":"Total OT-I","value":2.06,"lo":1.5,"hi":2.6},
{"organ":"LN","cond":"Peptide+IL12","series":"IFNγ+  OT-I","value":4.52,"lo":4.33,"hi":4.71},
{"organ":"LN","cond":"Peptide+IL12","series":"Total OT-I","value":7.29,"lo":6.87,"hi":7.74},
{"organ":"Spleen","cond":"None","series":"IFNγ+  OT-I","value":0.03},
{"organ":"Spleen","cond":"None","series":"Total OT-I","value":0.11},
{"organ":"Spleen","cond":"Peptide","series":"IFNγ+  OT-I","value":0.67},
{"organ":"Spleen","cond":"Peptide","series":"Total OT-I","value":2.32,"lo":1.93,"hi":2.68},
{"organ":"Spleen","cond":"Peptide+IL12","series":"IFNγ+  OT-I","value":1.77,"lo":1.71,"hi":1.83},
{"organ":"Spleen","cond":"Peptide+IL12","series":"Total OT-I","value":4.1}
],
"lysis": [
{"organ":"LN","group":"Peptide+IL12","et":0.88,"release":4.9},
{"organ":"LN","group":"Peptide+IL12","et":1.79,"release":9.3},
{"organ":"LN","group":"Peptide+IL12","et":3.44,"release":13.2},
{"organ":"LN","group":"Peptide+IL12","et":7.14,"release":22.0},
{"organ":"LN","group":"Peptide","et":0.39,"release":1.25},
{"organ":"LN","group":"Peptide","et":0.755,"release":1.25},
{"organ":"LN","group":"Peptide","et":1.6,"release":0.6},
{"organ":"LN","group":"Peptide","et":3.25,"release":2.2},
{"organ":"Spleen","group":"Peptide+IL12","et":0.278,"release":2.27},
{"organ":"Spleen","group":"Peptide+IL12","et":0.573,"release":3.22},
{"organ":"Spleen","group":"Peptide+IL12","et":1.12,"release":4.87},
{"organ":"Spleen","group":"Peptide+IL12","et":2.22,"release":8.69},
{"organ":"Spleen","group":"Peptide","et":0.145,"release":0.48},
{"organ":"Spleen","group":"Peptide","et":0.288,"release":0.27},
{"organ":"Spleen","group":"Peptide","et":0.583,"release":1.13},
{"organ":"Spleen","group":"Peptide","et":1.14,"release":1.73}
]
},
"spacing": 1,
"vconcat": [
{
 "spacing": 0,
 "vconcat": [
  {"spacing": 67, "hconcat": [
   {"width": 240, "height": 124,
    "title": {"text": "Lymph Nodes", "fontSize": 26, "fontWeight": "bold", "offset": 9},
    "layer": [
     {"data": {"name": "hist"}, "transform": [{"filter": "datum.organ==='LN' && datum.cond==='None' && datum.trace==='thin'"}],
      "mark": {"type": "line", "color": "black", "strokeWidth": 1, "clip": true},
      "encoding": {
       "x": {"field": "ch", "type": "quantitative", "scale": {"domain": [0, 1024], "nice": false, "zero": false}, "axis": {"orient": "top", "ticks": false, "labels": false, "domain": false, "title": "A", "titleX": -192, "titleY": 33, "titleAngle": 0, "titleAlign": "left", "titleBaseline": "alphabetic", "titleFontSize": 32, "titleFontWeight": "bold"}},
       "y": {"field": "count", "type": "quantitative", "scale": {"domain": [0, 100], "nice": false}, "axis": {"title": "None", "titleAngle": 0, "titleAlign": "right", "titleBaseline": "middle", "titleFontSize": 27, "titlePadding": 19, "labels": false, "domain": false, "values": [0,3.5,7,10.5,14,17.5,21,24.5,28,31.5,35,38.5,42,45.5,49,52.5,56,59.5,63,66.5,70,73.5,77,80.5,84,87.5,91,94.5,98], "tickSize": 5}}}},
     {"data": {"name": "hist"}, "transform": [{"filter": "datum.organ==='LN' && datum.cond==='None' && datum.trace==='thick'"}],
      "mark": {"type": "line", "interpolate": "step", "color": "black", "strokeWidth": 3.5, "clip": true},
      "encoding": {"x": {"field": "ch", "type": "quantitative"}, "y": {"field": "count", "type": "quantitative"}}},
     {"data": {"name": "gates"}, "transform": [{"filter": "datum.organ==='LN' && datum.cond==='None'"}],
      "mark": {"type": "rule", "color": "black", "strokeWidth": 1.5},
      "encoding": {"x": {"field": "lo", "type": "quantitative"}, "x2": {"field": "hi"}, "y": {"field": "level", "type": "quantitative"}}},
     {"data": {"name": "gates"}, "transform": [{"filter": "datum.organ==='LN' && datum.cond==='None'"}],
      "mark": {"type": "tick", "orient": "vertical", "size": 37, "thickness": 1.5, "color": "black"},
      "encoding": {"x": {"field": "lo", "type": "quantitative"}, "y": {"field": "level", "type": "quantitative"}}},
     {"data": {"name": "gates"}, "transform": [{"filter": "datum.organ==='LN' && datum.cond==='None'"}],
      "mark": {"type": "tick", "orient": "vertical", "size": 37, "thickness": 1.5, "color": "black"},
      "encoding": {"x": {"field": "hi", "type": "quantitative"}, "y": {"field": "level", "type": "quantitative"}}},
     {"data": {"name": "gates"}, "transform": [{"filter": "datum.organ==='LN' && datum.cond==='None'"}],
      "mark": {"type": "text", "font": "DejaVu Sans Mono", "fontSize": 23, "align": "center", "baseline": "middle"},
      "encoding": {"x": {"field": "mid", "type": "quantitative"}, "y": {"field": "ly", "type": "quantitative"}, "text": {"field": "pct", "type": "nominal"}}}
    ]},
   {"width": 243, "height": 124,
    "title": {"text": "Spleen", "fontSize": 26, "fontWeight": "bold", "offset": 9},
    "layer": [
     {"data": {"name": "hist"}, "transform": [{"filter": "datum.organ==='Spleen' && datum.cond==='None' && datum.trace==='thin'"}],
      "mark": {"type": "line", "color": "black", "strokeWidth": 1, "clip": true},
      "encoding": {
       "x": {"field": "ch", "type": "quantitative", "scale": {"domain": [0, 1024], "nice": false, "zero": false}, "axis": null},
       "y": {"field": "count", "type": "quantitative", "scale": {"domain": [0, 100], "nice": false}, "axis": {"title": null, "labels": false, "domain": false, "values": [0,3.5,7,10.5,14,17.5,21,24.5,28,31.5,35,38.5,42,45.5,49,52.5,56,59.5,63,66.5,70,73.5,77,80.5,84,87.5,91,94.5,98], "tickSize": 5}}}},
     {"data": {"name": "hist"}, "transform": [{"filter": "datum.organ==='Spleen' && datum.cond==='None' && datum.trace==='thick'"}],
      "mark": {"type": "line", "interpolate": "step", "color": "black", "strokeWidth": 3.5, "clip": true},
      "encoding": {"x": {"field": "ch", "type": "quantitative"}, "y": {"field": "count", "type": "quantitative"}}},
     {"data": {"name": "gates"}, "transform": [{"filter": "datum.organ==='Spleen' && datum.cond==='None'"}],
      "mark": {"type": "rule", "color": "black", "strokeWidth": 1.5},
      "encoding": {"x": {"field": "lo", "type": "quantitative"}, "x2": {"field": "hi"}, "y": {"field": "level", "type": "quantitative"}}},
     {"data": {"name": "gates"}, "transform": [{"filter": "datum.organ==='Spleen' && datum.cond==='None'"}],
      "mark": {"type": "tick", "orient": "vertical", "size": 37, "thickness": 1.5, "color": "black"},
      "encoding": {"x": {"field": "lo", "type": "quantitative"}, "y": {"field": "level", "type": "quantitative"}}},
     {"data": {"name": "gates"}, "transform": [{"filter": "datum.organ==='Spleen' && datum.cond==='None'"}],
      "mark": {"type": "tick", "orient": "vertical", "size": 37, "thickness": 1.5, "color": "black"},
      "encoding": {"x": {"field": "hi", "type": "quantitative"}, "y": {"field": "level", "type": "quantitative"}}},
     {"data": {"name": "gates"}, "transform": [{"filter": "datum.organ==='Spleen' && datum.cond==='None'"}],
      "mark": {"type": "text", "font": "DejaVu Sans Mono", "fontSize": 23, "align": "center", "baseline": "middle"},
      "encoding": {"x": {"field": "mid", "type": "quantitative"}, "y": {"field": "ly", "type": "quantitative"}, "text": {"field": "pct", "type": "nominal"}}}
    ]}
  ]},
  {"spacing": 67, "hconcat": [
   {"width": 240, "height": 124,
    "layer": [
     {"data": {"name": "hist"}, "transform": [{"filter": "datum.organ==='LN' && datum.cond==='Peptide' && datum.trace==='thin'"}],
      "mark": {"type": "line", "color": "black", "strokeWidth": 1, "clip": true},
      "encoding": {
       "x": {"field": "ch", "type": "quantitative", "scale": {"domain": [0, 1024], "nice": false, "zero": false}, "axis": null},
       "y": {"field": "count", "type": "quantitative", "scale": {"domain": [0, 100], "nice": false}, "axis": {"title": "Peptide", "titleAngle": 0, "titleAlign": "right", "titleBaseline": "middle", "titleFontSize": 27, "titlePadding": 19, "labels": false, "domain": false, "values": [0,3.5,7,10.5,14,17.5,21,24.5,28,31.5,35,38.5,42,45.5,49,52.5,56,59.5,63,66.5,70,73.5,77,80.5,84,87.5,91,94.5,98], "tickSize": 5}}}},
     {"data": {"name": "hist"}, "transform": [{"filter": "datum.organ==='LN' && datum.cond==='Peptide' && datum.trace==='thick'"}],
      "mark": {"type": "line", "interpolate": "step", "color": "black", "strokeWidth": 3.5, "clip": true},
      "encoding": {"x": {"field": "ch", "type": "quantitative"}, "y": {"field": "count", "type": "quantitative"}}},
     {"data": {"name": "gates"}, "transform": [{"filter": "datum.organ==='LN' && datum.cond==='Peptide'"}],
      "mark": {"type": "rule", "color": "black", "strokeWidth": 1.5},
      "encoding": {"x": {"field": "lo", "type": "quantitative"}, "x2": {"field": "hi"}, "y": {"field": "level", "type": "quantitative"}}},
     {"data": {"name": "gates"}, "transform": [{"filter": "datum.organ==='LN' && datum.cond==='Peptide'"}],
      "mark": {"type": "tick", "orient": "vertical", "size": 37, "thickness": 1.5, "color": "black"},
      "encoding": {"x": {"field": "lo", "type": "quantitative"}, "y": {"field": "level", "type": "quantitative"}}},
     {"data": {"name": "gates"}, "transform": [{"filter": "datum.organ==='LN' && datum.cond==='Peptide'"}],
      "mark": {"type": "tick", "orient": "vertical", "size": 37, "thickness": 1.5, "color": "black"},
      "encoding": {"x": {"field": "hi", "type": "quantitative"}, "y": {"field": "level", "type": "quantitative"}}},
     {"data": {"name": "gates"}, "transform": [{"filter": "datum.organ==='LN' && datum.cond==='Peptide'"}],
      "mark": {"type": "text", "font": "DejaVu Sans Mono", "fontSize": 23, "align": "center", "baseline": "middle"},
      "encoding": {"x": {"field": "mid", "type": "quantitative"}, "y": {"field": "ly", "type": "quantitative"}, "text": {"field": "pct", "type": "nominal"}}}
    ]},
   {"width": 243, "height": 124,
    "layer": [
     {"data": {"name": "hist"}, "transform": [{"filter": "datum.organ==='Spleen' && datum.cond==='Peptide' && datum.trace==='thin'"}],
      "mark": {"type": "line", "color": "black", "strokeWidth": 1, "clip": true},
      "encoding": {
       "x": {"field": "ch", "type": "quantitative", "scale": {"domain": [0, 1024], "nice": false, "zero": false}, "axis": null},
       "y": {"field": "count", "type": "quantitative", "scale": {"domain": [0, 100], "nice": false}, "axis": {"title": null, "labels": false, "domain": false, "values": [0,3.5,7,10.5,14,17.5,21,24.5,28,31.5,35,38.5,42,45.5,49,52.5,56,59.5,63,66.5,70,73.5,77,80.5,84,87.5,91,94.5,98], "tickSize": 5}}}},
     {"data": {"name": "hist"}, "transform": [{"filter": "datum.organ==='Spleen' && datum.cond==='Peptide' && datum.trace==='thick'"}],
      "mark": {"type": "line", "interpolate": "step", "color": "black", "strokeWidth": 3.5, "clip": true},
      "encoding": {"x": {"field": "ch", "type": "quantitative"}, "y": {"field": "count", "type": "quantitative"}}},
     {"data": {"name": "gates"}, "transform": [{"filter": "datum.organ==='Spleen' && datum.cond==='Peptide'"}],
      "mark": {"type": "rule", "color": "black", "strokeWidth": 1.5},
      "encoding": {"x": {"field": "lo", "type": "quantitative"}, "x2": {"field": "hi"}, "y": {"field": "level", "type": "quantitative"}}},
     {"data": {"name": "gates"}, "transform": [{"filter": "datum.organ==='Spleen' && datum.cond==='Peptide'"}],
      "mark": {"type": "tick", "orient": "vertical", "size": 37, "thickness": 1.5, "color": "black"},
      "encoding": {"x": {"field": "hi", "type": "quantitative"}, "y": {"field": "level", "type": "quantitative"}}},
     {"data": {"name": "gates"}, "transform": [{"filter": "datum.organ==='Spleen' && datum.cond==='Peptide'"}],
      "mark": {"type": "text", "font": "DejaVu Sans Mono", "fontSize": 23, "align": "center", "baseline": "middle"},
      "encoding": {"x": {"field": "mid", "type": "quantitative"}, "y": {"field": "ly", "type": "quantitative"}, "text": {"field": "pct", "type": "nominal"}}}
    ]}
  ]},
  {"spacing": 67, "hconcat": [
   {"width": 240, "height": 124,
    "layer": [
     {"data": {"name": "hist"}, "transform": [{"filter": "datum.organ==='LN' && datum.cond==='Peptide+IL12' && datum.trace==='thin'"}],
      "mark": {"type": "line", "color": "black", "strokeWidth": 1, "clip": true},
      "encoding": {
       "x": {"field": "ch", "type": "quantitative", "scale": {"domain": [0, 1024], "nice": false, "zero": false}, "axis": {"values": [0,77.1,122.1,154.1,178.9,199.2,216.3,231.2,244.3,256,333.1,378.1,410.1,434.9,455.2,472.3,487.2,500.3,512,589.1,634.1,666.1,690.9,711.2,728.3,743.2,756.3,768,845.1,890.1,922.1,946.9,967.2,984.3,999.2,1012.3,1024], "labels": false, "domain": false, "tickWidth": 1.5, "tickSize": 7, "title": "IFN-γ ─▶", "titleAnchor": "start", "titleAlign": "left", "titleFontSize": 27, "titlePadding": 5}},
       "y": {"field": "count", "type": "quantitative", "scale": {"domain": [0, 100], "nice": false}, "axis": {"title": "Peptide+IL12", "titleAngle": 0, "titleAlign": "right", "titleBaseline": "middle", "titleFontSize": 27, "titlePadding": 19, "labels": false, "domain": false, "values": [0,3.5,7,10.5,14,17.5,21,24.5,28,31.5,35,38.5,42,45.5,49,52.5,56,59.5,63,66.5,70,73.5,77,80.5,84,87.5,91,94.5,98], "tickSize": 5}}}},
     {"data": {"name": "hist"}, "transform": [{"filter": "datum.organ==='LN' && datum.cond==='Peptide+IL12' && datum.trace==='thick'"}],
      "mark": {"type": "line", "interpolate": "step", "color": "black", "strokeWidth": 3.5, "clip": true},
      "encoding": {"x": {"field": "ch", "type": "quantitative"}, "y": {"field": "count", "type": "quantitative"}}},
     {"data": {"name": "gates"}, "transform": [{"filter": "datum.organ==='LN' && datum.cond==='Peptide+IL12'"}],
      "mark": {"type": "rule", "color": "black", "strokeWidth": 1.5},
      "encoding": {"x": {"field": "lo", "type": "quantitative"}, "x2": {"field": "hi"}, "y": {"field": "level", "type": "quantitative"}}},
     {"data": {"name": "gates"}, "transform": [{"filter": "datum.organ==='LN' && datum.cond==='Peptide+IL12'"}],
      "mark": {"type": "tick", "orient": "vertical", "size": 37, "thickness": 1.5, "color": "black"},
      "encoding": {"x": {"field": "lo", "type": "quantitative"}, "y": {"field": "level", "type": "quantitative"}}},
     {"data": {"name": "gates"}, "transform": [{"filter": "datum.organ==='LN' && datum.cond==='Peptide+IL12'"}],
      "mark": {"type": "tick", "orient": "vertical", "size": 37, "thickness": 1.5, "color": "black"},
      "encoding": {"x": {"field": "hi", "type": "quantitative"}, "y": {"field": "level", "type": "quantitative"}}},
     {"data": {"name": "gates"}, "transform": [{"filter": "datum.organ==='LN' && datum.cond==='Peptide+IL12'"}],
      "mark": {"type": "text", "font": "DejaVu Sans Mono", "fontSize": 23, "align": "center", "baseline": "middle"},
      "encoding": {"x": {"field": "mid", "type": "quantitative"}, "y": {"field": "ly", "type": "quantitative"}, "text": {"field": "pct", "type": "nominal"}}}
    ]},
   {"width": 243, "height": 124,
    "layer": [
     {"data": {"name": "hist"}, "transform": [{"filter": "datum.organ==='Spleen' && datum.cond==='Peptide+IL12' && datum.trace==='thin'"}],
      "mark": {"type": "line", "color": "black", "strokeWidth": 1, "clip": true},
      "encoding": {
       "x": {"field": "ch", "type": "quantitative", "scale": {"domain": [0, 1024], "nice": false, "zero": false}, "axis": {"values": [0,77.1,122.1,154.1,178.9,199.2,216.3,231.2,244.3,256,333.1,378.1,410.1,434.9,455.2,472.3,487.2,500.3,512,589.1,634.1,666.1,690.9,711.2,728.3,743.2,756.3,768,845.1,890.1,922.1,946.9,967.2,984.3,999.2,1012.3,1024], "labels": false, "domain": false, "tickWidth": 1.5, "tickSize": 7, "title": "IFN-γ ─▶", "titleAnchor": "start", "titleAlign": "left", "titleFontSize": 27, "titlePadding": 5}},
       "y": {"field": "count", "type": "quantitative", "scale": {"domain": [0, 100], "nice": false}, "axis": {"title": null, "labels": false, "domain": false, "values": [0,3.5,7,10.5,14,17.5,21,24.5,28,31.5,35,38.5,42,45.5,49,52.5,56,59.5,63,66.5,70,73.5,77,80.5,84,87.5,91,94.5,98], "tickSize": 5}}}},
     {"data": {"name": "hist"}, "transform": [{"filter": "datum.organ==='Spleen' && datum.cond==='Peptide+IL12' && datum.trace==='thick'"}],
      "mark": {"type": "line", "interpolate": "step", "color": "black", "strokeWidth": 3.5, "clip": true},
      "encoding": {"x": {"field": "ch", "type": "quantitative"}, "y": {"field": "count", "type": "quantitative"}}},
     {"data": {"name": "gates"}, "transform": [{"filter": "datum.organ==='Spleen' && datum.cond==='Peptide+IL12'"}],
      "mark": {"type": "rule", "color": "black", "strokeWidth": 1.5},
      "encoding": {"x": {"field": "lo", "type": "quantitative"}, "x2": {"field": "hi"}, "y": {"field": "level", "type": "quantitative"}}},
     {"data": {"name": "gates"}, "transform": [{"filter": "datum.organ==='Spleen' && datum.cond==='Peptide+IL12'"}],
      "mark": {"type": "tick", "orient": "vertical", "size": 37, "thickness": 1.5, "color": "black"},
      "encoding": {"x": {"field": "lo", "type": "quantitative"}, "y": {"field": "level", "type": "quantitative"}}},
     {"data": {"name": "gates"}, "transform": [{"filter": "datum.organ==='Spleen' && datum.cond==='Peptide+IL12'"}],
      "mark": {"type": "tick", "orient": "vertical", "size": 37, "thickness": 1.5, "color": "black"},
      "encoding": {"x": {"field": "hi", "type": "quantitative"}, "y": {"field": "level", "type": "quantitative"}}},
     {"data": {"name": "gates"}, "transform": [{"filter": "datum.organ==='Spleen' && datum.cond==='Peptide+IL12'"}],
      "mark": {"type": "text", "font": "DejaVu Sans Mono", "fontSize": 23, "align": "center", "baseline": "middle"},
      "encoding": {"x": {"field": "mid", "type": "quantitative"}, "y": {"field": "ly", "type": "quantitative"}, "text": {"field": "pct", "type": "nominal"}}}
    ]}
  ]}
 ]
},
{
 "spacing": 24,
 "vconcat": [
  {
   "bounds": "flush",
   "spacing": 66,
   "resolve": {"scale": {"fill": "independent"}, "legend": {"fill": "independent"}},
   "hconcat": [
    {"width": 248, "height": 218,
     "view": {"stroke": null},
     "resolve": {"axis": {"y": "independent"}},
     "layer": [
      {"data": {"name": "cells"}, "transform": [{"filter": "datum.organ==='LN'"}],
       "mark": {"type": "bar", "stroke": "black", "strokeWidth": 1.2},
       "encoding": {
        "y": {"field": "cond", "type": "nominal", "sort": ["None", "Peptide", "Peptide+IL12"], "scale": {"paddingInner": 0, "paddingOuter": 0.27, "align": 0.81}, "axis": {"title": "B", "titleAngle": 0, "titleX": -187, "titleY": 55, "titleAlign": "left", "titleBaseline": "alphabetic", "titleFontSize": 32, "titleFontWeight": "bold", "ticks": false, "domainWidth": 1.5, "labelFontSize": 27, "labelPadding": 22}},
        "yOffset": {"field": "series", "type": "nominal", "sort": ["IFNγ+  OT-I", "Total OT-I"], "scale": {"paddingInner": 0.3, "paddingOuter": 0.69}},
        "x": {"field": "value", "type": "quantitative", "scale": {"domain": [0, 8], "nice": false}, "axis": {"values": [0, 2, 4, 6, 8], "tickSize": 8, "tickWidth": 1.5, "domainWidth": 1.5, "labelFontSize": 23, "labelPadding": 10, "title": "Number of Cells (x 10⁻⁶ )", "titleFontSize": 21, "titleAnchor": "start", "titleAlign": "left", "titleX": 156, "titlePadding": 8}},
        "fill": {"field": "series", "type": "nominal", "scale": {"domain": ["IFNγ+  OT-I", "Total OT-I"], "range": ["black", "white"]}, "legend": {"orient": "none", "legendX": 75, "legendY": 32, "title": null, "symbolType": "M-2.27,-1H2.27V1H-2.27Z", "symbolSize": 225, "symbolStrokeColor": "black", "symbolStrokeWidth": 1.2, "labelFontSize": 23, "labelOffset": 18, "rowPadding": 7}}
       }},
      {"data": {"name": "cells"}, "transform": [{"filter": "datum.organ==='LN' && datum.series==='Total OT-I'"}],
       "mark": {"type": "rule", "color": "black", "strokeWidth": 2.5, "strokeDash": [2, 5]},
       "encoding": {
        "y": {"field": "cond", "type": "nominal", "sort": ["None", "Peptide", "Peptide+IL12"], "axis": {"orient": "right", "labels": false, "ticks": false, "title": null, "domainWidth": 1.5}},
        "yOffset": {"field": "series", "type": "nominal", "sort": ["IFNγ+  OT-I", "Total OT-I"], "scale": {"paddingInner": 0.3, "paddingOuter": 0.69}},
        "x": {"field": "value", "type": "quantitative"},
        "x2": {"datum": 0}
       }},
      {"data": {"name": "cells"}, "transform": [{"filter": "datum.organ==='LN' && isValid(datum.lo)"}],
       "mark": {"type": "rule", "color": "black", "strokeWidth": 1.5},
       "encoding": {
        "y": {"field": "cond", "type": "nominal", "sort": ["None", "Peptide", "Peptide+IL12"], "axis": null},
        "yOffset": {"field": "series", "type": "nominal", "sort": ["IFNγ+  OT-I", "Total OT-I"], "scale": {"paddingInner": 0.3, "paddingOuter": 0.69}},
        "x": {"field": "lo", "type": "quantitative"},
        "x2": {"field": "hi"}
       }},
      {"data": {"name": "cells"}, "transform": [{"filter": "datum.organ==='LN' && isValid(datum.lo)"}],
       "mark": {"type": "tick", "color": "black", "thickness": 1.5, "size": 14},
       "encoding": {
        "y": {"field": "cond", "type": "nominal", "sort": ["None", "Peptide", "Peptide+IL12"], "axis": null},
        "yOffset": {"field": "series", "type": "nominal", "sort": ["IFNγ+  OT-I", "Total OT-I"], "scale": {"paddingInner": 0.3, "paddingOuter": 0.69}},
        "x": {"field": "lo", "type": "quantitative"}
       }},
      {"data": {"name": "cells"}, "transform": [{"filter": "datum.organ==='LN' && isValid(datum.lo)"}],
       "mark": {"type": "tick", "color": "black", "thickness": 1.5, "size": 14},
       "encoding": {
        "y": {"field": "cond", "type": "nominal", "sort": ["None", "Peptide", "Peptide+IL12"], "axis": null},
        "yOffset": {"field": "series", "type": "nominal", "sort": ["IFNγ+  OT-I", "Total OT-I"], "scale": {"paddingInner": 0.3, "paddingOuter": 0.69}},
        "x": {"field": "hi", "type": "quantitative"}
       }}
     ]},
    {"width": 250, "height": 218,
     "view": {"stroke": null},
     "resolve": {"axis": {"y": "independent"}},
     "layer": [
      {"data": {"name": "cells"}, "transform": [{"filter": "datum.organ==='Spleen'"}],
       "mark": {"type": "bar", "stroke": "black", "strokeWidth": 1.2},
       "encoding": {
        "y": {"field": "cond", "type": "nominal", "sort": ["None", "Peptide", "Peptide+IL12"], "scale": {"paddingInner": 0, "paddingOuter": 0.27, "align": 0.81}, "axis": {"title": null, "ticks": false, "labels": false, "domainWidth": 1.5}},
        "yOffset": {"field": "series", "type": "nominal", "sort": ["IFNγ+  OT-I", "Total OT-I"], "scale": {"paddingInner": 0.3, "paddingOuter": 0.69}},
        "x": {"field": "value", "type": "quantitative", "scale": {"domain": [0, 5], "nice": false}, "axis": {"values": [0, 1, 2, 3, 4, 5], "tickSize": 8, "tickWidth": 1.5, "domainWidth": 1.5, "labelFontSize": 23, "labelPadding": 10, "title": null}},
        "fill": {"field": "series", "type": "nominal", "scale": {"domain": ["IFNγ+  OT-I", "Total OT-I"], "range": ["black", "white"]}, "legend": null}
       }},
      {"data": {"name": "cells"}, "transform": [{"filter": "datum.organ==='Spleen' && datum.series==='Total OT-I'"}],
       "mark": {"type": "rule", "color": "black", "strokeWidth": 2.5, "strokeDash": [2, 5]},
       "encoding": {
        "y": {"field": "cond", "type": "nominal", "sort": ["None", "Peptide", "Peptide+IL12"], "axis": {"orient": "right", "labels": false, "ticks": false, "title": null, "domainWidth": 1.5}},
        "yOffset": {"field": "series", "type": "nominal", "sort": ["IFNγ+  OT-I", "Total OT-I"], "scale": {"paddingInner": 0.3, "paddingOuter": 0.69}},
        "x": {"field": "value", "type": "quantitative"},
        "x2": {"datum": 0}
       }},
      {"data": {"name": "cells"}, "transform": [{"filter": "datum.organ==='Spleen' && isValid(datum.lo)"}],
       "mark": {"type": "rule", "color": "black", "strokeWidth": 1.5},
       "encoding": {
        "y": {"field": "cond", "type": "nominal", "sort": ["None", "Peptide", "Peptide+IL12"], "axis": null},
        "yOffset": {"field": "series", "type": "nominal", "sort": ["IFNγ+  OT-I", "Total OT-I"], "scale": {"paddingInner": 0.3, "paddingOuter": 0.69}},
        "x": {"field": "lo", "type": "quantitative"},
        "x2": {"field": "hi"}
       }},
      {"data": {"name": "cells"}, "transform": [{"filter": "datum.organ==='Spleen' && isValid(datum.lo)"}],
       "mark": {"type": "tick", "color": "black", "thickness": 1.5, "size": 14},
       "encoding": {
        "y": {"field": "cond", "type": "nominal", "sort": ["None", "Peptide", "Peptide+IL12"], "axis": null},
        "yOffset": {"field": "series", "type": "nominal", "sort": ["IFNγ+  OT-I", "Total OT-I"], "scale": {"paddingInner": 0.3, "paddingOuter": 0.69}},
        "x": {"field": "lo", "type": "quantitative"}
       }},
      {"data": {"name": "cells"}, "transform": [{"filter": "datum.organ==='Spleen' && isValid(datum.lo)"}],
       "mark": {"type": "tick", "color": "black", "thickness": 1.5, "size": 14},
       "encoding": {
        "y": {"field": "cond", "type": "nominal", "sort": ["None", "Peptide", "Peptide+IL12"], "axis": null},
        "yOffset": {"field": "series", "type": "nominal", "sort": ["IFNγ+  OT-I", "Total OT-I"], "scale": {"paddingInner": 0.3, "paddingOuter": 0.69}},
        "x": {"field": "hi", "type": "quantitative"}
       }}
     ]}
   ]
  },
  {
   "bounds": "flush",
   "spacing": 62,
   "hconcat": [
    {"width": 246, "height": 338,
     "resolve": {"axis": {"x": "independent"}},
     "layer": [
      {"data": {"name": "lysis"}, "transform": [{"filter": "datum.organ==='LN'"}],
       "mark": {"type": "line", "color": "black", "strokeWidth": 2.5},
       "encoding": {
        "x": {"field": "et", "type": "quantitative", "scale": {"type": "log", "domain": [0.1, 10], "nice": false}, "axis": {"orient": "bottom", "values": [0.1, 1, 10], "format": "~g", "domain": false, "tickSize": 11, "tickWidth": 1.5, "labelFontSize": 24, "labelPadding": 6, "title": "OT-I E:T", "titleFontSize": 21, "titlePadding": 12}},
        "y": {"field": "release", "type": "quantitative", "scale": {"domain": [-2.4, 30], "nice": false, "zero": false}, "axis": {"values": [0, 10, 20, 30], "domain": false, "tickSize": 11, "tickWidth": 1.5, "labelFontSize": 24, "labelPadding": 3, "title": "% Specific Release", "titleFontSize": 25, "titlePadding": 14}},
        "detail": {"field": "group", "type": "nominal"}
       }},
      {"data": {"name": "lysis"}, "transform": [{"filter": "datum.organ==='LN'"}],
       "mark": {"type": "point", "shape": "circle", "filled": true, "opacity": 1, "stroke": "black", "strokeWidth": 1.5, "size": 220},
       "encoding": {
        "x": {"field": "et", "type": "quantitative", "axis": {"orient": "top", "ticks": false, "labels": false, "domain": false, "title": "C", "titleX": -189, "titleY": 35, "titleAngle": 0, "titleAlign": "left", "titleBaseline": "alphabetic", "titleFontSize": 32, "titleFontWeight": "bold"}},
        "y": {"field": "release", "type": "quantitative"},
        "fill": {"field": "group", "type": "nominal", "scale": {"domain": ["Peptide", "Peptide+IL12"], "range": ["white", "black"]}, "legend": null}
       }},
      {"data": {"values": [{"note": "Cytolysis"}]},
       "mark": {"type": "text", "align": "left", "baseline": "middle", "fontSize": 29},
       "encoding": {"x": {"datum": 0.123, "axis": null}, "y": {"datum": 27.9}, "text": {"field": "note", "type": "nominal"}}},
      {"data": {"values": [{"note": "Peptide"}]},
       "mark": {"type": "text", "align": "left", "baseline": "middle", "fontSize": 21},
       "encoding": {"x": {"datum": 0.7, "axis": null}, "y": {"datum": 21.7}, "text": {"field": "note", "type": "nominal"}}},
      {"data": {"values": [{"note": "+IL12"}]},
       "mark": {"type": "text", "align": "left", "baseline": "middle", "fontSize": 21},
       "encoding": {"x": {"datum": 0.7, "axis": null}, "y": {"datum": 19.0}, "text": {"field": "note", "type": "nominal"}}},
      {"data": {"values": [{"note": "Peptide"}]},
       "mark": {"type": "text", "align": "left", "baseline": "middle", "fontSize": 21},
       "encoding": {"x": {"datum": 1.79, "axis": null}, "y": {"datum": 5.3}, "text": {"field": "note", "type": "nominal"}}}
     ]},
    {"width": 247, "height": 338,
     "layer": [
      {"data": {"name": "lysis"}, "transform": [{"filter": "datum.organ==='Spleen'"}],
       "mark": {"type": "line", "color": "black", "strokeWidth": 2.5},
       "encoding": {
        "x": {"field": "et", "type": "quantitative", "scale": {"type": "log", "domain": [0.1, 10], "nice": false}, "axis": {"values": [0.1, 1, 10], "format": "~g", "domain": false, "tickSize": 11, "tickWidth": 1.5, "labelFontSize": 24, "labelPadding": 6, "title": "OT-I E:T", "titleFontSize": 21, "titlePadding": 12}},
        "y": {"field": "release", "type": "quantitative", "scale": {"domain": [-0.08, 10], "nice": false, "zero": false}, "axis": {"values": [0, 5, 10], "domain": false, "tickSize": 11, "tickWidth": 1.5, "labelFontSize": 24, "labelPadding": 3, "title": null}},
        "detail": {"field": "group", "type": "nominal"}
       }},
      {"data": {"name": "lysis"}, "transform": [{"filter": "datum.organ==='Spleen'"}],
       "mark": {"type": "point", "shape": "circle", "filled": true, "opacity": 1, "stroke": "black", "strokeWidth": 1.5, "size": 220},
       "encoding": {
        "x": {"field": "et", "type": "quantitative"},
        "y": {"field": "release", "type": "quantitative"},
        "fill": {"field": "group", "type": "nominal", "scale": {"domain": ["Peptide", "Peptide+IL12"], "range": ["white", "black"]}, "legend": null}
       }},
      {"data": {"values": [{"note": "Cytolysis"}]},
       "mark": {"type": "text", "align": "left", "baseline": "middle", "fontSize": 29},
       "encoding": {"x": {"datum": 0.12}, "y": {"datum": 9.4}, "text": {"field": "note", "type": "nominal"}}},
      {"data": {"values": [{"note": "Peptide"}]},
       "mark": {"type": "text", "align": "left", "baseline": "middle", "fontSize": 21},
       "encoding": {"x": {"datum": 0.21}, "y": {"datum": 7.97}, "text": {"field": "note", "type": "nominal"}}},
      {"data": {"values": [{"note": "+IL12"}]},
       "mark": {"type": "text", "align": "left", "baseline": "middle", "fontSize": 21},
       "encoding": {"x": {"datum": 0.21}, "y": {"datum": 7.07}, "text": {"field": "note", "type": "nominal"}}},
      {"data": {"values": [{"note": "Peptide"}]},
       "mark": {"type": "text", "align": "left", "baseline": "middle", "fontSize": 21},
       "encoding": {"x": {"datum": 1.48}, "y": {"datum": 2.39}, "text": {"field": "note", "type": "nominal"}}}
     ]}
   ]
  }
 ]
}
]
}
